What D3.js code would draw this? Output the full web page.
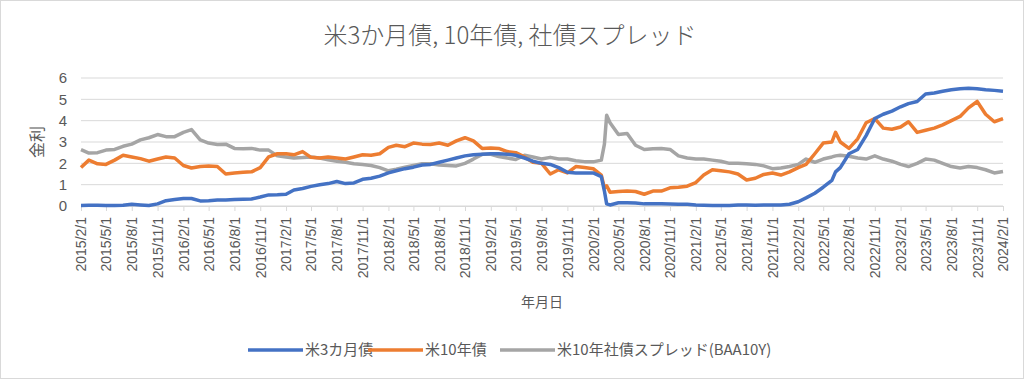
<!DOCTYPE html>
<html>
<head>
<meta charset="utf-8">
<script src="https://cdn.jsdelivr.net/npm/d3@7"></script>
<style>
  body { margin: 0; background: #fff; }
  svg { display: block; font-family: "Noto Sans CJK JP", "Noto Sans", sans-serif; }
</style>
</head>
<body>
<div id="chart"></div>
<script>
const title = "米3か月債, 10年債, 社債スプレッド";
const seriesNames = ["米3カ月債", "米10年債", "米10年社債スプレッド(BAA10Y)"];
const colors = ["#4472C4", "#ED7D31", "#A5A5A5"];
const yTicks = [0, 1, 2, 3, 4, 5, 6];

const dates = [
  "2015-02-01", "2015-03-01", "2015-04-01", "2015-05-01", "2015-06-01", "2015-07-01", "2015-08-01", "2015-09-01", "2015-10-01", "2015-11-01", "2015-12-01",
  "2016-01-01", "2016-02-01", "2016-03-01", "2016-04-01", "2016-05-01", "2016-06-01", "2016-07-01", "2016-08-01", "2016-09-01", "2016-10-01", "2016-11-01", "2016-12-01",
  "2017-01-01", "2017-02-01", "2017-03-01", "2017-04-01", "2017-05-01", "2017-06-01", "2017-07-01", "2017-08-01", "2017-09-01", "2017-10-01", "2017-11-01", "2017-12-01",
  "2018-01-01", "2018-02-01", "2018-03-01", "2018-04-01", "2018-05-01", "2018-06-01", "2018-07-01", "2018-08-01", "2018-09-01", "2018-10-01", "2018-11-01", "2018-12-01",
  "2019-01-01", "2019-02-01", "2019-03-01", "2019-04-01", "2019-05-01", "2019-06-01", "2019-07-01", "2019-08-01", "2019-09-01", "2019-10-01", "2019-11-01", "2019-12-01",
  "2020-01-01", "2020-02-01", "2020-03-01", "2020-03-12", "2020-03-20", "2020-04-01", "2020-05-01", "2020-06-01", "2020-07-01", "2020-08-01", "2020-09-01", "2020-10-01", "2020-11-01", "2020-12-01",
  "2021-01-01", "2021-02-01", "2021-03-01", "2021-04-01", "2021-05-01", "2021-06-01", "2021-07-01", "2021-08-01", "2021-09-01", "2021-10-01", "2021-11-01", "2021-12-01",
  "2022-01-01", "2022-02-01", "2022-03-01", "2022-04-01", "2022-05-01", "2022-06-01", "2022-06-14", "2022-07-01", "2022-08-01", "2022-09-01", "2022-10-01", "2022-11-01", "2022-12-01",
  "2023-01-01", "2023-02-01", "2023-03-01", "2023-04-01", "2023-05-01", "2023-06-01", "2023-07-01", "2023-08-01", "2023-09-01", "2023-10-01", "2023-11-01", "2023-12-01",
  "2024-01-01", "2024-02-01"
];

const tbill3m = [
  0.02, 0.03, 0.03, 0.02, 0.02, 0.03, 0.08, 0.05, 0.02, 0.1, 0.25,
  0.3, 0.35, 0.35, 0.24, 0.25, 0.28, 0.28, 0.3, 0.32, 0.33, 0.42, 0.52,
  0.53, 0.55, 0.75, 0.82, 0.92, 1.0, 1.05, 1.15, 1.05, 1.08, 1.25, 1.3,
  1.4, 1.55, 1.65, 1.75, 1.82, 1.92, 1.95, 2.05, 2.15, 2.25, 2.35, 2.4,
  2.43, 2.45, 2.45, 2.43, 2.38, 2.25, 2.1, 2.0, 1.95, 1.8, 1.58, 1.55,
  1.55, 1.55, 1.38, 0.7, 0.1, 0.05, 0.15, 0.15, 0.14, 0.1, 0.1, 0.1, 0.09, 0.08,
  0.08, 0.05, 0.04, 0.02, 0.02, 0.02, 0.05, 0.05, 0.04, 0.05, 0.05, 0.05,
  0.08, 0.2, 0.38, 0.6, 0.88, 1.2, 1.6, 1.8, 2.45, 2.65, 3.3, 4.1, 4.3,
  4.45, 4.65, 4.8, 4.9, 5.25, 5.3, 5.38, 5.45, 5.5, 5.52, 5.5, 5.45,
  5.42, 5.38
];

const tnote10y = [
  1.8, 2.15, 1.98, 1.95, 2.15, 2.38, 2.3, 2.22, 2.1, 2.2, 2.3,
  2.25, 1.9, 1.78, 1.85, 1.88, 1.85, 1.5, 1.55, 1.58, 1.6, 1.8, 2.3,
  2.45, 2.45, 2.4, 2.55, 2.28, 2.25, 2.3, 2.25, 2.2, 2.3, 2.4, 2.38,
  2.45, 2.75, 2.85, 2.78, 2.95, 2.9, 2.88, 2.95, 2.85, 3.05, 3.2, 3.05,
  2.7, 2.72, 2.7, 2.55, 2.5, 2.3, 2.05, 2.0, 1.5, 1.7, 1.55, 1.85,
  1.8, 1.75, 1.45, 0.85, 0.95, 0.65, 0.68, 0.7, 0.68, 0.55, 0.7, 0.7, 0.85, 0.88,
  0.93, 1.1, 1.45, 1.7, 1.65, 1.6, 1.5, 1.22, 1.3, 1.48, 1.55, 1.45,
  1.6, 1.8, 1.95, 2.45, 2.95, 3.0, 3.45, 3.0, 2.7, 3.15, 3.9, 4.1, 3.65,
  3.6, 3.7, 3.95, 3.45, 3.55, 3.65, 3.8, 4.0, 4.2, 4.6, 4.9, 4.3,
  3.95, 4.1
];

const baaSpread = [
  2.64, 2.48, 2.5, 2.62, 2.65, 2.8, 2.9, 3.1, 3.2, 3.35, 3.25,
  3.25, 3.45, 3.58, 3.1, 2.95, 2.88, 2.9, 2.7, 2.68, 2.7, 2.62, 2.62,
  2.35, 2.3, 2.25, 2.27, 2.3, 2.25, 2.17, 2.1, 2.05, 1.98, 1.95, 1.9,
  1.8, 1.65, 1.72, 1.82, 1.9, 1.98, 1.98, 1.92, 1.9, 1.88, 2.0, 2.2,
  2.42, 2.42, 2.32, 2.25, 2.18, 2.38, 2.3, 2.2, 2.28, 2.2, 2.2, 2.12,
  2.08, 2.07, 2.15, 2.9, 4.25, 3.9, 3.35, 3.4, 2.85, 2.65, 2.68, 2.7, 2.65, 2.35,
  2.25, 2.2, 2.2, 2.15, 2.1, 2.0, 2.0, 1.98, 1.95, 1.88, 1.75, 1.78,
  1.85, 1.95, 2.2, 2.05, 2.2, 2.3, 2.35, 2.38, 2.33, 2.25, 2.2, 2.35, 2.2,
  2.1, 1.95, 1.85, 2.0, 2.2, 2.15, 2.0, 1.85, 1.78, 1.85, 1.8, 1.7,
  1.55, 1.62
];

const width = 1024;
const height = 379;
const plotLeft = 81, plotRight = 1003, plotTop = 78, plotBottom = 206;
const textColor = "#595959";
const gridColor = "#d9d9d9";

const parseDate = d3.timeParse("%Y-%m-%d");
const xDates = dates.map(parseDate);
const allSeries = [tbill3m, tnote10y, baaSpread];

const svg = d3.select("#chart")
  .append("svg")
  .attr("width", width)
  .attr("height", height);

svg.append("rect")
  .attr("x", 0.5).attr("y", 0.5)
  .attr("width", width - 1).attr("height", height - 1)
  .attr("fill", "#fff")
  .attr("stroke", gridColor);

const x = d3.scaleTime()
  .domain([xDates[0], xDates[xDates.length - 1]])
  .range([plotLeft, plotRight]);

const y = d3.scaleLinear()
  .domain([0, 6])
  .range([plotBottom, plotTop]);

// gridlines
svg.append("g")
  .selectAll("line")
  .data(yTicks)
  .enter()
  .append("line")
  .attr("x1", plotLeft)
  .attr("x2", plotRight)
  .attr("y1", d => y(d))
  .attr("y2", d => y(d))
  .attr("stroke", gridColor)
  .attr("stroke-width", 1);

// y axis labels
const yAxis = svg.append("g")
  .attr("transform", `translate(${plotLeft - 10},0)`)
  .call(d3.axisLeft(y).tickValues(yTicks).tickFormat(d3.format("d")).tickSize(0).tickPadding(4));
yAxis.select(".domain").remove();
yAxis.selectAll("text")
  .attr("fill", textColor)
  .style("font-size", "15px");

// x axis
const xTicks = d3.timeMonth.range(xDates[0], d3.timeDay.offset(xDates[xDates.length - 1], 1), 3);
const fmt = d => `${d.getFullYear()}/${d.getMonth() + 1}/${d.getDate()}`;

const xAxis = svg.append("g")
  .attr("transform", `translate(0,${plotBottom})`)
  .call(d3.axisBottom(x).tickValues(xTicks).tickFormat(fmt).tickSize(5).tickSizeOuter(0));
xAxis.select(".domain").attr("stroke", gridColor);
xAxis.selectAll(".tick line").attr("stroke", gridColor);
xAxis.selectAll("text")
  .attr("fill", textColor)
  .style("font-size", "14px")
  .attr("transform", "rotate(-90)")
  .attr("text-anchor", "end")
  .attr("x", -11)
  .attr("y", 0)
  .attr("dy", "0.35em");

// lines
const line = d3.line()
  .x((d, i) => x(xDates[i]))
  .y(d => y(d));

svg.append("g")
  .selectAll("path")
  .data(allSeries.slice().reverse())
  .enter()
  .append("path")
  .attr("d", d => line(d))
  .attr("fill", "none")
  .attr("stroke", (d, i) => colors[colors.length - 1 - i])
  .attr("stroke-width", 3.5)
  .attr("stroke-linejoin", "round");

// title
svg.append("text")
  .attr("x", 510)
  .attr("y", 44)
  .attr("text-anchor", "middle")
  .attr("fill", textColor)
  .style("font-size", "24px")
  .style("font-weight", "300")
  .text(title);

// axis titles
svg.append("text")
  .attr("transform", `translate(43,${(plotTop + plotBottom) / 2}) rotate(-90)`)
  .attr("text-anchor", "middle")
  .attr("fill", textColor)
  .style("font-size", "16px")
  .text("金利");

svg.append("text")
  .attr("x", (plotLeft + plotRight) / 2)
  .attr("y", 307)
  .attr("text-anchor", "middle")
  .attr("fill", textColor)
  .style("font-size", "14px")
  .text("年月日");

// legend
const legendX = [248, 368, 500];
const legend = svg.append("g")
  .selectAll("g")
  .data(seriesNames)
  .enter()
  .append("g")
  .attr("transform", (d, i) => `translate(${legendX[i]},350)`);

legend.append("line")
  .attr("x1", 0).attr("x2", 55)
  .attr("stroke", (d, i) => colors[i])
  .attr("stroke-width", 3.5);

legend.append("text")
  .attr("x", 57)
  .attr("dy", "0.35em")
  .attr("fill", textColor)
  .style("font-size", "15px")
  .text(d => d);
</script>
</body>
</html>
